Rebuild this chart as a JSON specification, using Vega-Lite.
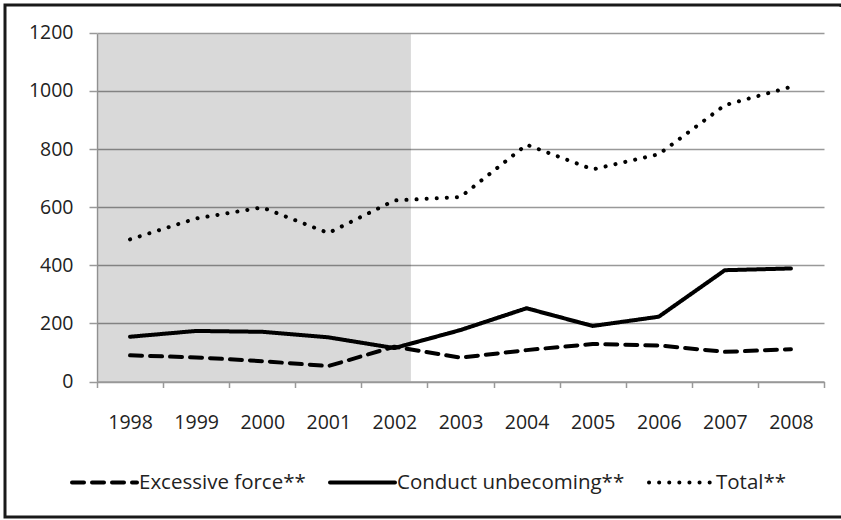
{
  "$schema": "https://vega.github.io/schema/vega-lite/v6.json",
  "width": 836,
  "height": 512,
  "autosize": {"type": "none"},
  "padding": {"left": 5, "top": 5, "right": 0, "bottom": 3},
  "background": "white",
  "view": {"stroke": "#1a1a1a", "strokeWidth": 3, "strokeDash": [838, 510, 1350, 1], "strokeCap": "butt"},
  "config": {
    "font": "Open Sans",
    "style": {"cell": {"stroke": "#1a1a1a", "strokeWidth": 3, "strokeDash": [838, 510, 1350, 1]}}
  },
  "datasets": {
    "shade": [{"from": 1998, "to": 2002}],
    "series": [
      {"year": 1998, "series": "Excessive force**", "value": 90},
      {"year": 1999, "series": "Excessive force**", "value": 83},
      {"year": 2000, "series": "Excessive force**", "value": 70},
      {"year": 2001, "series": "Excessive force**", "value": 53},
      {"year": 2002, "series": "Excessive force**", "value": 120},
      {"year": 2003, "series": "Excessive force**", "value": 82},
      {"year": 2004, "series": "Excessive force**", "value": 108},
      {"year": 2005, "series": "Excessive force**", "value": 129},
      {"year": 2006, "series": "Excessive force**", "value": 124},
      {"year": 2007, "series": "Excessive force**", "value": 102},
      {"year": 2008, "series": "Excessive force**", "value": 111},
      {"year": 1998, "series": "Conduct unbecoming**", "value": 154},
      {"year": 1999, "series": "Conduct unbecoming**", "value": 174},
      {"year": 2000, "series": "Conduct unbecoming**", "value": 171},
      {"year": 2001, "series": "Conduct unbecoming**", "value": 152},
      {"year": 2002, "series": "Conduct unbecoming**", "value": 115},
      {"year": 2003, "series": "Conduct unbecoming**", "value": 177},
      {"year": 2004, "series": "Conduct unbecoming**", "value": 252},
      {"year": 2005, "series": "Conduct unbecoming**", "value": 191},
      {"year": 2006, "series": "Conduct unbecoming**", "value": 223},
      {"year": 2007, "series": "Conduct unbecoming**", "value": 383},
      {"year": 2008, "series": "Conduct unbecoming**", "value": 389},
      {"year": 1998, "series": "Total**", "value": 489},
      {"year": 1999, "series": "Total**", "value": 561},
      {"year": 2000, "series": "Total**", "value": 599},
      {"year": 2001, "series": "Total**", "value": 511},
      {"year": 2002, "series": "Total**", "value": 623},
      {"year": 2003, "series": "Total**", "value": 635},
      {"year": 2004, "series": "Total**", "value": 815},
      {"year": 2005, "series": "Total**", "value": 730},
      {"year": 2006, "series": "Total**", "value": 782},
      {"year": 2007, "series": "Total**", "value": 951},
      {"year": 2008, "series": "Total**", "value": 1014}
    ]
  },
  "layer": [
    {
      "data": {"name": "shade"},
      "mark": {"type": "rect", "fill": "black", "opacity": 0.15},
      "encoding": {
        "x": {"field": "from", "type": "ordinal", "bandPosition": 0,
              "scale": {"type": "band", "domain": [1998,1999,2000,2001,2002,2003,2004,2005,2006,2007,2008], "paddingInner": 0, "paddingOuter": 0, "range": [92, 819]},
              "axis": {"title": null, "offset": -135.5, "tickBand": "extent", "tickSize": 6, "tickColor": "#999999", "domainColor": "#999999", "domainWidth": 1.5, "tickWidth": 1.5, "labelPadding": 26, "labelAngle": 0, "labelFontSize": 19.5, "labelColor": "#222222", "grid": false}},
        "x2": {"field": "to", "bandPosition": 0.75},
        "y": {"datum": 0, "type": "quantitative",
              "scale": {"domain": [0, 1200], "range": [376.5, 27.8], "nice": false, "zero": false},
              "axis": {"title": null, "offset": -92, "values": [0, 200, 400, 600, 800, 1000, 1200], "format": "d", "grid": true, "gridColor": "#999999", "gridWidth": 1.5, "tickSize": 8, "tickColor": "#999999", "tickWidth": 1.5, "domainColor": "#aaaaaa", "domainWidth": 1.5, "labelPadding": 16, "labelFontSize": 19.5, "labelColor": "#222222"}},
        "y2": {"datum": 1195}
      }
    },
    {
      "data": {"name": "series"},
      "mark": {"type": "line", "strokeWidth": 4, "color": "black", "strokeCap": "round", "strokeJoin": "round", "interpolate": "linear"},
      "encoding": {
        "x": {"field": "year", "type": "ordinal",
              "scale": {"type": "band", "domain": [1998,1999,2000,2001,2002,2003,2004,2005,2006,2007,2008], "paddingInner": 0, "paddingOuter": 0, "range": [92, 819]},
              "axis": {"title": null, "offset": -135.5, "tickBand": "extent", "tickSize": 6, "tickColor": "#999999", "domainColor": "#999999", "domainWidth": 1.5, "tickWidth": 1.5, "labelPadding": 26, "labelAngle": 0, "labelFontSize": 19.5, "labelColor": "#222222", "grid": false}},
        "y": {"field": "value", "type": "quantitative",
              "scale": {"domain": [0, 1200], "range": [376.5, 27.8], "nice": false, "zero": false},
              "axis": {"title": null, "offset": -92, "values": [0, 200, 400, 600, 800, 1000, 1200], "format": "d", "grid": true, "gridColor": "#999999", "gridWidth": 1.5, "tickSize": 8, "tickColor": "#999999", "tickWidth": 1.5, "domainColor": "#aaaaaa", "domainWidth": 1.5, "labelPadding": 16, "labelFontSize": 19.5, "labelColor": "#222222"}},
        "strokeDash": {"field": "series", "type": "nominal",
              "scale": {"domain": ["Excessive force**", "Conduct unbecoming**", "Total**"], "range": [[12, 8], [1, 0], [0.1, 10]]},
              "legend": {"orient": "none", "legendX": 65, "legendY": 443, "direction": "horizontal", "title": null, "symbolType": "stroke", "symbolSize": 4225, "symbolStrokeWidth": 4, "symbolStrokeColor": "black", "labelFontSize": 20.5, "labelColor": "#222222", "labelOffset": 0, "columnPadding": 16, "labelLimit": 400, "padding": 0,
                         "encode": {"symbols": {"update": {"strokeCap": {"value": "round"}}}}}}
      }
    }
  ]
}
